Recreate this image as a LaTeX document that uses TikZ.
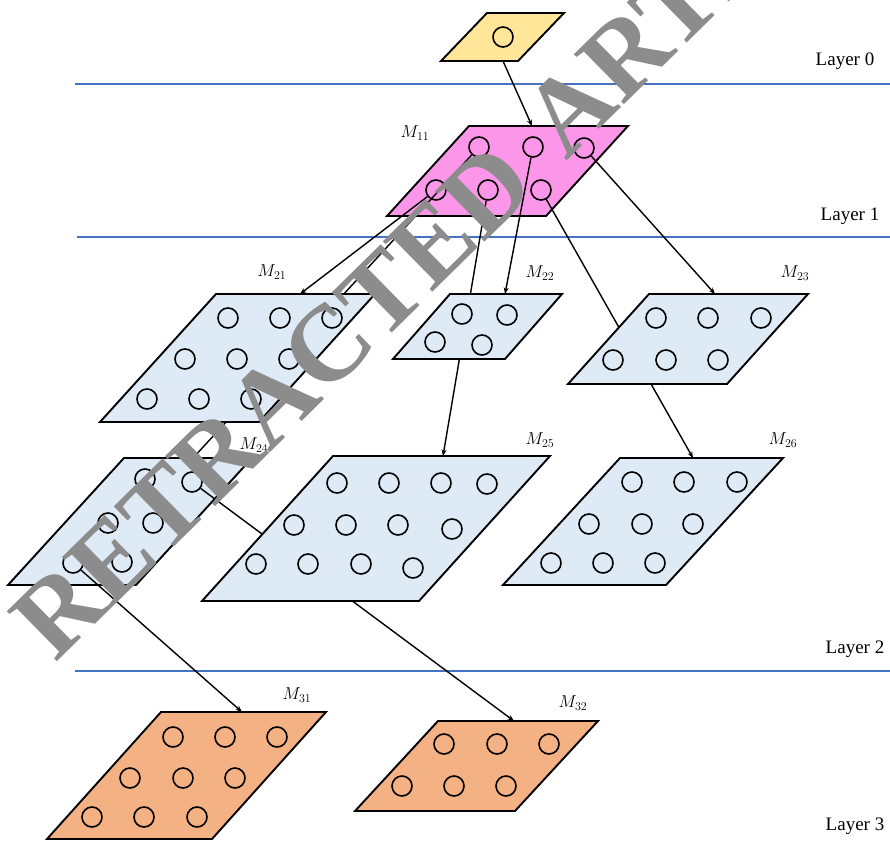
\documentclass[tikz,border=0pt]{standalone}
\usepackage{fontspec}
\setmainfont{Liberation Serif}
\usetikzlibrary{arrows.meta}

\definecolor{layerblue}{RGB}{68,114,196}
\definecolor{inputfill}{RGB}{255,230,153}
\definecolor{rootfill}{RGB}{252,150,232}
\definecolor{midfill}{RGB}{222,235,247}
\definecolor{leaffill}{RGB}{244,177,131}
\definecolor{stampgray}{RGB}{140,140,140}

\tikzset{
  layerline/.style={layerblue, line width=1.6pt},
  plane/.style={draw=black, line width=1.9pt, line join=miter},
  unit/.style={circle, draw=black, line width=1.6pt, minimum size=20pt, inner sep=0pt},
  link/.style={black, line width=1.4pt},
  linkarrow/.style={link, -{Stealth[length=6.5pt,width=5pt]}},
  layertag/.style={font=\fontsize{19}{22}\selectfont, inner sep=0pt},
  maptag/.style={font=\fontsize{18.5}{20}\selectfont, inner sep=0pt},
  stamp/.style={text=stampgray, font=\fontsize{108}{112}\selectfont\bfseries, inner sep=0pt},
}

% parallelogram: fill, top-left x, top-right x, top y, bottom-left x, bottom y
\newcommand{\drawplane}[6]{%
  \draw[plane, fill=#1] (#2,#4) -- (#3,#4) -- ({#3-#2+#5},#6) -- (#5,#6) -- cycle;}

\begin{document}
\begin{tikzpicture}[x=1pt, y=-1pt]
\useasboundingbox (0,0) rectangle (890,840);
\fill[white] (0,0) rectangle (890,840);

% layer separators and captions
\coordinate (s0a) at (75,84);  \coordinate (s0b) at (890,84);
\coordinate (s1a) at (77,237); \coordinate (s1b) at (890,237);
\coordinate (s2a) at (75,671); \coordinate (s2b) at (890,671);
\draw[layerline] (s0a) -- (s0b);
\draw[layerline] (s1a) -- (s1b);
\draw[layerline] (s2a) -- (s2b);
\node[layertag] (lay0) at (845,61) {Layer 0};
\node[layertag] (lay1) at (850,216) {Layer 1};
\node[layertag] (lay2) at (855,649) {Layer 2};
\node[layertag] (lay3) at (855,826) {Layer 3};

% entry points on the top edges of the maps
\coordinate (t11) at (532,126);
\coordinate (t21) at (300,294);
\coordinate (t22) at (505,294);
\coordinate (t23) at (715,294);
\coordinate (t24) at (193,458);
\coordinate (t25) at (443,456);
\coordinate (t26) at (693,458);
\coordinate (t31) at (242,712);
\coordinate (t32) at (514,721);
\coordinate (inout) at (503,61);

% layer 0: input
\drawplane{inputfill}{487}{564}{13}{441}{61}
\node[unit] (in-1) at (503,37) {};

% layer 1: M11
\drawplane{rootfill}{469}{628}{126}{387}{216}
\foreach \x/\y [count=\i] in {479/147,533/147,584/148,436/190,488/190,541/190}
  \node[unit] (m11-\i) at (\x,\y) {};
\node[maptag] (lab11) at (415,133) {$M_{11}$};
\draw[linkarrow] (inout) -- (t11);

% links from M11 into layer 2
\draw[linkarrow] (m11-1) -- (t24);
\draw[linkarrow] (m11-4) -- (t21);
\draw[linkarrow] (m11-5) -- (t25);
\draw[linkarrow] (m11-2) -- (t22);
\draw[linkarrow] (m11-6) -- (t26);
\draw[linkarrow] (m11-3) -- (t23);

% layer 2, upper row
\drawplane{midfill}{216}{375}{294}{100}{422}
\foreach \x/\y [count=\i] in {228/318,280/318,332/318,185/359,237/359,289/359,147/399,199/399,251/399}
  \node[unit] (m21-\i) at (\x,\y) {};
\drawplane{midfill}{450}{562}{294}{393}{359}
\foreach \x/\y [count=\i] in {462/314,507/315,435/342,482/345}
  \node[unit] (m22-\i) at (\x,\y) {};
\drawplane{midfill}{649}{808}{294}{568}{384}
\foreach \x/\y [count=\i] in {656/318,708/318,761/318,613/360,666/360,718/360}
  \node[unit] (m23-\i) at (\x,\y) {};
\node[maptag] (lab21) at (272,272) {$M_{21}$};
\node[maptag] (lab22) at (540,273) {$M_{22}$};
\node[maptag] (lab23) at (795,273) {$M_{23}$};

% layer 2, lower row
\drawplane{midfill}{124}{252}{458}{8}{585}
\foreach \x/\y [count=\i] in {145/479,192/482,108/523,153/523,73/563,122/562}
  \node[unit] (m24-\i) at (\x,\y) {};
\node[maptag] (lab24) at (254,445) {$M_{24}$};

% links from M24 into layer 3
\draw[linkarrow] (m24-5) -- (t31);
\draw[linkarrow] (m24-2) -- (t32);

\drawplane{midfill}{333}{550}{456}{202}{601}
\foreach \x/\y [count=\i] in {337/483,389/483,441/483,487/484,294/525,346/525,398/525,452/529,256/564,308/564,361/564,413/568}
  \node[unit] (m25-\i) at (\x,\y) {};
\drawplane{midfill}{620}{783}{458}{503}{585}
\foreach \x/\y [count=\i] in {632/482,684/482,737/482,589/524,642/524,693/524,551/563,603/563,655/563}
  \node[unit] (m26-\i) at (\x,\y) {};
\node[maptag] (lab25) at (540,440) {$M_{25}$};
\node[maptag] (lab26) at (783,440) {$M_{26}$};

% layer 3
\drawplane{leaffill}{161}{326}{712}{47}{839}
\foreach \x/\y [count=\i] in {173/737,225/737,277/737,130/778,183/778,235/778,92/817,144/817,197/817}
  \node[unit] (m31-\i) at (\x,\y) {};
\drawplane{leaffill}{438}{598}{721}{355}{811}
\foreach \x/\y [count=\i] in {444/744,497/744,549/744,402/786,454/786,506/786}
  \node[unit] (m32-\i) at (\x,\y) {};
\node[maptag] (lab31) at (297,695) {$M_{31}$};
\node[maptag] (lab32) at (573,703) {$M_{32}$};

% stamp across the page
\node[stamp, rotate=44.5, anchor=base west] (stamp) at (55,664) {RETRACTED\hspace{12pt} ARTICLE};
\end{tikzpicture}
\end{document}
